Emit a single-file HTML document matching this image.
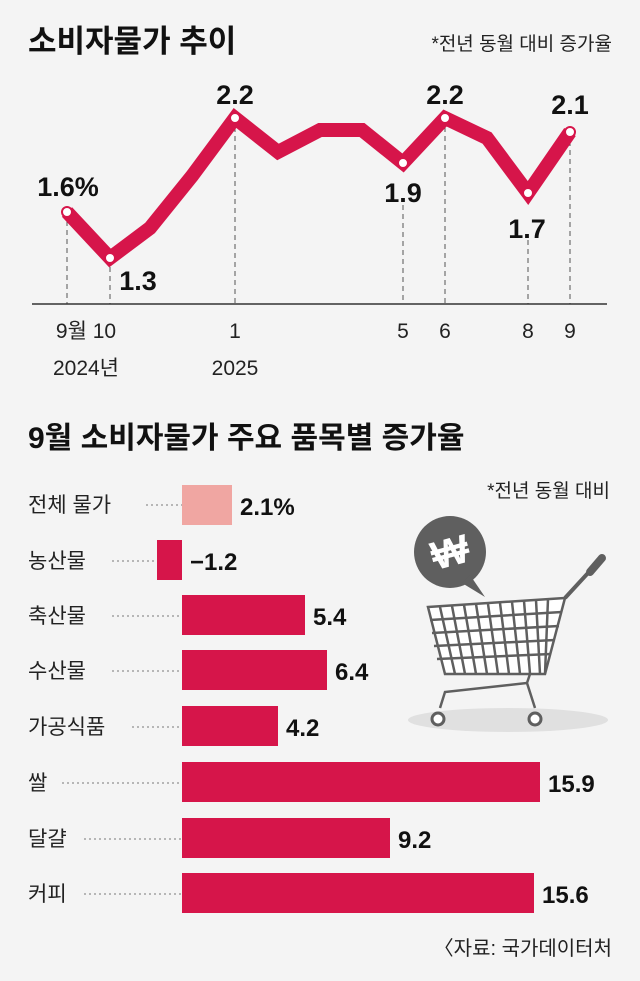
<!DOCTYPE html>
<html><head><meta charset="utf-8"><style>
body{margin:0;width:640px;height:981px;background:#f4f4f4;overflow:hidden;font-family:"Liberation Sans","Noto Sans CJK KR",sans-serif;}
svg{display:block}
</style></head><body>
<svg width="640" height="981" xmlns="http://www.w3.org/2000/svg" font-family="Liberation Sans, Noto Sans CJK KR, sans-serif">
<text x="28" y="52" font-size="31" font-weight="bold" fill="#111">소비자물가 추이</text>
<text x="612" y="50" font-size="19" fill="#222" text-anchor="end">*전년 동월 대비 증가율</text>
<g stroke="#555" stroke-width="1" stroke-dasharray="5,4">
<line x1="67" y1="212" x2="67" y2="304"/><line x1="110" y1="258" x2="110" y2="304"/>
<line x1="235" y1="118" x2="235" y2="304"/><line x1="403" y1="205" x2="403" y2="304"/>
<line x1="445" y1="118" x2="445" y2="304"/><line x1="528" y1="240" x2="528" y2="304"/>
<line x1="570" y1="132" x2="570" y2="304"/></g>
<line x1="32" y1="304" x2="607" y2="304" stroke="#333" stroke-width="1.5"/>
<polyline points="67,212 110,258 150,228 192,176 235,118 278,152 320,130 362,130 403,163 445,118 487,138 528,193 570,132" fill="none" stroke="#d6154a" stroke-width="14" stroke-linejoin="miter"/>
<g fill="#fff" stroke="#d6154a" stroke-width="2">
<circle cx="67" cy="212" r="5"/><circle cx="110" cy="258" r="5"/><circle cx="235" cy="118" r="5"/><circle cx="403" cy="163" r="5"/><circle cx="445" cy="118" r="5"/><circle cx="528" cy="193" r="5"/><circle cx="570" cy="132" r="5"/></g>
<g font-size="27" font-weight="bold" fill="#111" text-anchor="middle">
<text x="68" y="196">1.6%</text><text x="138" y="290">1.3</text><text x="235" y="104">2.2</text>
<text x="403" y="202">1.9</text><text x="445" y="104">2.2</text><text x="527" y="238">1.7</text><text x="570" y="114">2.1</text></g>
<g font-size="21" fill="#222" text-anchor="middle">
<text x="86" y="338">9월 10</text><text x="235" y="338">1</text><text x="403" y="338">5</text><text x="445" y="338">6</text><text x="528" y="338">8</text><text x="570" y="338">9</text>
<text x="86" y="375">2024년</text><text x="235" y="375">2025</text></g>
<text x="28" y="448" font-size="30" font-weight="bold" fill="#111">9월 소비자물가 주요 품목별 증가율</text>
<text x="610" y="497" font-size="19" fill="#222" text-anchor="end">*전년 동월 대비</text>
<g font-size="21" fill="#222">
<text x="28" y="512">전체 물가</text><text x="28" y="568">농산물</text><text x="28" y="623">축산물</text><text x="28" y="678">수산물</text>
<text x="28" y="734">가공식품</text><text x="28" y="790">쌀</text><text x="28" y="846">달걀</text><text x="28" y="901">커피</text></g>
<g stroke="#777" stroke-width="1" stroke-dasharray="2,3">
<line x1="146" y1="505" x2="182" y2="505"/><line x1="112" y1="561" x2="157" y2="561"/><line x1="112" y1="616" x2="182" y2="616"/><line x1="112" y1="671" x2="182" y2="671"/>
<line x1="132" y1="727" x2="182" y2="727"/><line x1="62" y1="783" x2="182" y2="783"/><line x1="84" y1="839" x2="182" y2="839"/><line x1="84" y1="894" x2="182" y2="894"/></g>
<rect x="182" y="485" width="50" height="40" fill="#f0a6a2"/>
<g fill="#d6154a">
<rect x="157" y="540" width="25" height="40"/><rect x="182" y="595" width="123" height="40"/><rect x="182" y="650" width="145" height="40"/>
<rect x="182" y="706" width="96" height="40"/><rect x="182" y="762" width="358" height="40"/><rect x="182" y="818" width="208" height="40"/><rect x="182" y="873" width="352" height="40"/></g>
<g font-size="24" font-weight="bold" fill="#111">
<text x="240" y="515">2.1%</text><text x="190" y="570">−1.2</text><text x="313" y="625">5.4</text><text x="335" y="680">6.4</text>
<text x="286" y="736">4.2</text><text x="548" y="792">15.9</text><text x="398" y="848">9.2</text><text x="542" y="903">15.6</text></g>
<text x="612" y="955" font-size="20" fill="#222" text-anchor="end">〈자료: 국가데이터처</text>
<!-- cart -->
<ellipse cx="508" cy="720" rx="100" ry="12" fill="#e0e0e0"/>
<circle cx="450" cy="552" r="36" fill="#5f5f5f"/>
<polygon points="470,575 485,597 462,583" fill="#5f5f5f"/>
<text x="450" y="566" font-size="40" font-weight="bold" fill="#fff" text-anchor="middle" transform="rotate(-15 450 552)">₩</text>
<g stroke="#5f5f5f" stroke-width="2.5" fill="none">
<polygon points="428,607 565,598 545,674 445,674" fill="#fff"/>
<line x1="565" y1="598" x2="600" y2="560" stroke-width="4"/><line x1="590" y1="572" x2="602" y2="558" stroke-width="8" stroke-linecap="round"/>
<path d="M430,620 L562,612 M432,633 L559,626 M434,646 L555,640 M437,659 L551,654"/>
<path d="M440,607 L455,674 M452,606 L465,674 M464,605 L476,674 M476,604 L487,674 M488,604 L498,674 M500,603 L509,674 M512,602 L520,674 M524,601 L530,674 M536,600 L540,674 M548,599 L545,674"/>
<path d="M530,674 L527,683 L445,692 L440,708 M527,683 L535,708"/>
</g>
<g fill="#fff" stroke="#5f5f5f" stroke-width="3"><circle cx="438" cy="719" r="6"/><circle cx="535" cy="719" r="6"/></g>
</svg>
</body></html>
